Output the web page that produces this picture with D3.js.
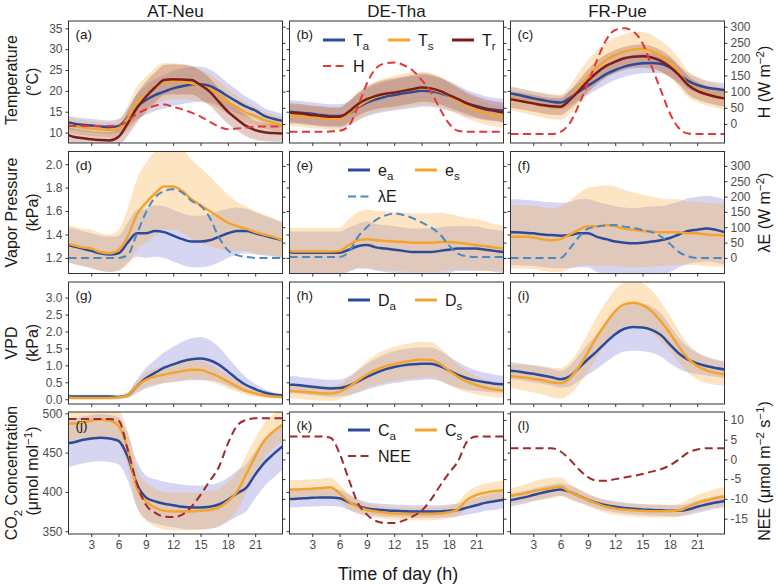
<!DOCTYPE html>
<html><head><meta charset="utf-8">
<script src="https://cdn.jsdelivr.net/npm/d3@7"></script>
<style>body{margin:0;background:#fff}svg{display:block;font-family:"Liberation Sans",Arial,sans-serif}</style>
</head><body><svg id="c" width="777" height="588"></svg>
<script>
const hours=[0.5,1,2,3,4,5,6,7,8,9,10,11,12,13,14,15,16,17,18,19,20,21,22,23,24];
const sites=["AT-Neu","DE-Tha","FR-Pue"];
const xTicks=[3,6,9,12,15,18,21];
const panelLabels=["(a)","(b)","(c)","(d)","(e)","(f)","(g)","(h)","(i)","(j)","(k)","(l)"];

// Temperature (°C) and H (W m-2)
const Ta_a=[12.4,12.2,11.9,11.7,11.5,11.3,11.6,13.6,16.2,17.8,19.0,19.8,20.6,21.1,21.5,21.6,21.2,20.1,18.7,17.4,16.2,15.3,14.0,13.3,12.8];
const Ts_a=[11.8,11.6,11.2,11.0,10.8,10.6,11.0,13.4,17.0,19.0,21.0,22.2,22.3,22.2,21.8,21.2,20.4,19.0,17.4,16.1,14.8,14.0,13.0,12.4,11.8];
const Tr_a=[9.4,9.0,8.7,8.4,8.2,8.1,9.0,12.2,15.8,18.6,20.8,22.6,22.8,22.7,22.6,21.4,19.8,17.4,15.0,13.2,11.6,10.6,10.1,9.9,9.8];
const H_a=[-6,-6,-6,-6,-6,-6,-5,10,31,45,56,60,53,45,35,23,7,-8,-16,-14,-11,-8,-8,-8,-8];
const sdTa_a=[1.6,1.6,1.6,1.6,1.6,1.6,1.7,2.2,3.0,3.5,3.8,4.0,4.2,4.3,4.3,4.2,4.0,3.6,3.2,2.8,2.4,2.1,1.9,1.8,1.7];
const sdTs_a=[1.8,1.8,1.8,1.8,1.8,1.8,2.0,3.0,4.0,4.3,4.5,4.5,4.3,4.2,4.0,3.8,3.6,3.3,3.0,2.7,2.4,2.2,2.0,1.9,1.8];
const sdTr_a=[2.0,2.0,2.0,2.0,2.0,2.0,2.2,3.0,3.5,3.6,3.6,3.6,3.6,3.6,3.5,3.4,3.3,3.1,2.9,2.7,2.5,2.3,2.2,2.1,2.0];

const Ta_b=[15.0,14.9,14.7,14.5,14.2,14.0,14.0,14.6,16.0,17.2,18.0,18.6,19.0,19.4,19.7,20.0,19.9,19.5,18.8,18.0,17.0,16.4,15.8,15.5,15.3];
const Ts_b=[14.2,14.1,13.9,13.7,13.5,13.3,13.3,14.6,16.2,17.6,18.6,19.2,19.6,20.0,20.4,20.6,20.4,19.8,18.8,17.6,16.3,15.4,14.6,14.1,13.8];
const Tr_b=[14.8,14.7,14.5,14.2,14.0,13.8,13.8,15.0,16.8,18.0,18.8,19.3,19.6,20.0,20.4,20.8,20.6,20.0,19.0,18.0,17.0,16.2,15.6,15.2,14.8];
const H_b=[-24,-24,-24,-24,-24,-23,-21,-6,53,125,172,187,190,182,166,136,100,48,2,-21,-24,-24,-24,-24,-24];
const sdTa_b=[2.8,2.8,2.8,2.8,2.8,2.8,2.8,2.9,3.1,3.3,3.5,3.6,3.7,3.8,3.8,3.8,3.7,3.6,3.5,3.3,3.2,3.0,2.9,2.8,2.8];
const sdTs_b=[2.6,2.6,2.6,2.6,2.6,2.6,2.6,2.8,3.2,3.5,3.7,3.9,4.0,4.1,4.1,4.0,3.9,3.7,3.5,3.2,3.0,2.8,2.7,2.6,2.6];
const sdTr_b=[2.3,2.3,2.3,2.3,2.3,2.3,2.3,2.5,2.8,3.0,3.2,3.3,3.4,3.4,3.4,3.4,3.3,3.2,3.0,2.8,2.6,2.5,2.4,2.3,2.3];

const Ta_c=[19.4,19.2,18.7,18.2,17.8,17.4,17.2,18.3,19.8,21.2,22.6,24.0,25.0,25.8,26.3,26.6,26.7,26.5,25.6,24.0,22.4,21.4,20.8,20.5,20.2];
const Ts_c=[18.2,18.0,17.5,17.0,16.6,16.2,16.1,17.8,20.6,23.4,25.6,27.4,28.6,29.4,29.9,30.1,29.6,28.4,26.8,24.4,21.6,20.3,19.4,18.8,18.2];
const Tr_c=[18.0,17.8,17.4,17.0,16.6,16.3,16.2,17.8,20.0,22.4,24.4,26.0,27.0,27.8,28.2,28.3,28.0,27.2,25.8,23.8,21.4,20.0,19.2,18.6,18.2];
const H_c=[-31,-31,-31,-31,-31,-31,-24,2,59,125,197,259,290,295,285,249,177,105,33,-13,-29,-31,-31,-31,-31];
const sdTa_c=[1.6,1.6,1.6,1.6,1.6,1.6,1.6,1.8,2.0,2.2,2.3,2.4,2.4,2.4,2.4,2.4,2.4,2.3,2.2,2.0,1.9,1.8,1.7,1.6,1.6];
const sdTs_c=[2.8,2.8,2.8,2.9,3.0,3.0,3.0,3.4,3.8,4.0,4.1,4.2,4.2,4.2,4.2,4.0,3.8,3.6,3.5,3.4,3.2,3.0,2.9,2.8,2.8];
const sdTr_c=[2.0,2.0,2.0,2.0,2.0,2.0,2.0,2.2,2.5,2.7,2.8,2.8,2.8,2.8,2.8,2.8,2.7,2.6,2.5,2.3,2.2,2.1,2.0,2.0,2.0];

// Vapor pressure (kPa) and λE (W m-2)
const ea_d=[1.31,1.30,1.28,1.26,1.24,1.23,1.24,1.33,1.41,1.41,1.43,1.42,1.39,1.36,1.34,1.34,1.35,1.38,1.41,1.43,1.43,1.41,1.39,1.37,1.35];
const es_d=[1.32,1.31,1.29,1.28,1.25,1.24,1.27,1.38,1.57,1.67,1.75,1.81,1.81,1.77,1.70,1.65,1.60,1.55,1.50,1.47,1.45,1.42,1.40,1.38,1.35];
const LE_d=[0,0,0,0,0,0,0,9,78,148,197,218,224,213,186,170,132,68,25,9,3,0,0,0,0];
const sdEa_d=[0.15,0.15,0.15,0.15,0.15,0.15,0.15,0.17,0.2,0.21,0.22,0.22,0.22,0.22,0.22,0.22,0.22,0.22,0.21,0.2,0.19,0.18,0.17,0.16,0.15];
const sdEs_d=[0.16,0.16,0.16,0.16,0.16,0.16,0.17,0.24,0.3,0.34,0.36,0.37,0.37,0.36,0.34,0.32,0.3,0.27,0.24,0.21,0.19,0.18,0.17,0.16,0.16];

const ea_e=[1.25,1.245,1.245,1.245,1.245,1.245,1.245,1.27,1.30,1.31,1.29,1.28,1.27,1.26,1.25,1.25,1.25,1.26,1.27,1.28,1.28,1.28,1.27,1.26,1.25];
const es_e=[1.26,1.255,1.255,1.255,1.255,1.255,1.26,1.31,1.35,1.36,1.35,1.345,1.34,1.335,1.33,1.33,1.33,1.335,1.335,1.33,1.32,1.31,1.30,1.29,1.28];
const LE_e=[3,3,3,3,3,3,3,19,68,100,124,138,145,140,130,116,100,78,41,14,5,3,3,3,3];
const sdEa_e=[0.18,0.18,0.18,0.18,0.18,0.18,0.18,0.19,0.19,0.2,0.2,0.2,0.2,0.2,0.2,0.2,0.2,0.2,0.2,0.19,0.19,0.19,0.18,0.18,0.18];
const sdEs_e=[0.2,0.2,0.2,0.2,0.2,0.2,0.2,0.22,0.24,0.25,0.25,0.25,0.25,0.25,0.25,0.25,0.25,0.25,0.24,0.23,0.22,0.22,0.21,0.2,0.2];

const ea_f=[1.42,1.42,1.415,1.41,1.40,1.395,1.39,1.395,1.41,1.41,1.38,1.36,1.34,1.33,1.325,1.33,1.34,1.35,1.37,1.40,1.43,1.44,1.45,1.44,1.42];
const es_f=[1.38,1.38,1.38,1.375,1.36,1.35,1.36,1.40,1.44,1.47,1.47,1.48,1.47,1.45,1.44,1.43,1.425,1.42,1.42,1.42,1.41,1.41,1.40,1.395,1.39];
const LE_f=[0,0,0,0,0,0,0,30,68,95,102,106,107,102,98,91,84,70,46,19,5,0,0,0,0];
const sdEa_f=[0.28,0.28,0.28,0.28,0.28,0.28,0.28,0.28,0.29,0.29,0.3,0.3,0.3,0.3,0.3,0.3,0.3,0.29,0.29,0.28,0.28,0.28,0.28,0.28,0.28];
const sdEs_f=[0.27,0.27,0.27,0.27,0.27,0.27,0.28,0.29,0.31,0.33,0.34,0.34,0.34,0.33,0.32,0.31,0.3,0.29,0.28,0.28,0.27,0.27,0.27,0.27,0.27];

// VPD (kPa)
const Da_g=[0.09,0.08,0.08,0.08,0.08,0.08,0.07,0.12,0.38,0.62,0.78,0.93,1.03,1.12,1.18,1.20,1.15,1.02,0.82,0.60,0.42,0.30,0.20,0.14,0.11];
const Ds_g=[0.05,0.04,0.04,0.04,0.04,0.04,0.05,0.12,0.38,0.57,0.67,0.73,0.78,0.83,0.87,0.86,0.78,0.67,0.52,0.38,0.25,0.17,0.11,0.08,0.06];
const sdDa_g=[0.05,0.05,0.05,0.05,0.05,0.05,0.05,0.08,0.2,0.3,0.38,0.45,0.52,0.58,0.62,0.64,0.6,0.52,0.42,0.32,0.22,0.15,0.1,0.07,0.06];
const sdDs_g=[0.04,0.04,0.04,0.04,0.04,0.04,0.04,0.07,0.15,0.2,0.23,0.25,0.27,0.28,0.28,0.28,0.26,0.23,0.2,0.16,0.12,0.09,0.07,0.05,0.04];

const Da_h=[0.43,0.43,0.40,0.37,0.34,0.32,0.33,0.40,0.52,0.66,0.78,0.88,0.95,1.00,1.03,1.05,1.05,0.98,0.85,0.72,0.62,0.55,0.50,0.46,0.44];
const Ds_h=[0.25,0.24,0.22,0.20,0.18,0.17,0.22,0.36,0.55,0.73,0.87,0.97,1.04,1.10,1.14,1.17,1.16,1.05,0.85,0.66,0.52,0.42,0.34,0.29,0.26];
const sdDa_h=[0.25,0.25,0.25,0.25,0.25,0.25,0.25,0.28,0.33,0.38,0.42,0.45,0.47,0.48,0.48,0.48,0.47,0.45,0.42,0.38,0.34,0.3,0.28,0.26,0.25];
const sdDs_h=[0.22,0.22,0.22,0.22,0.22,0.22,0.22,0.26,0.33,0.4,0.45,0.48,0.5,0.52,0.53,0.53,0.52,0.48,0.43,0.37,0.31,0.27,0.24,0.23,0.22];

const Da_i=[0.84,0.83,0.79,0.75,0.70,0.65,0.59,0.68,0.92,1.18,1.42,1.68,1.92,2.08,2.13,2.12,2.05,1.90,1.62,1.35,1.17,1.06,0.98,0.92,0.88];
const Ds_i=[0.68,0.67,0.64,0.60,0.56,0.50,0.47,0.62,0.95,1.38,1.85,2.25,2.60,2.80,2.85,2.78,2.60,2.30,1.95,1.55,1.20,0.98,0.85,0.78,0.74];
const sdDa_i=[0.25,0.25,0.25,0.25,0.25,0.25,0.25,0.3,0.38,0.45,0.52,0.58,0.63,0.67,0.7,0.7,0.68,0.64,0.56,0.46,0.38,0.32,0.28,0.26,0.25];
const sdDs_i=[0.35,0.35,0.38,0.4,0.42,0.44,0.45,0.48,0.52,0.56,0.6,0.62,0.64,0.65,0.65,0.64,0.62,0.58,0.52,0.46,0.42,0.4,0.38,0.36,0.35];

// CO2 (µmol mol-1) and NEE (µmol m-2 s-1)
const Ca_j=[462,463,466,468,469,468,465,445,410,393,388,385,383,381,380,380,381,384,390,398,405,422,437,448,458];
const Cs_j=[487,487,488,491,492,491,484,455,405,388,380,376,375,375,375,376,377,380,388,400,422,445,465,477,485];
const NEE_j=[10.2,10.2,10.2,10.2,10.2,10.2,9.8,2.5,-6,-11.5,-13.5,-14.5,-14.6,-14,-12,-9,-5.5,-2,4,8.5,10,10.4,10.4,10.4,10.4];
const sdCa_j=[30,30,30,30,30,30,30,30,29,28,28,28,28,28,28,28,28,28,28,29,30,30,30,30,30];
const sdCs_j=[22,22,22,22,22,22,22,23,24,24,24,24,24,24,24,24,24,24,24,24,24,23,22,22,22];

const Ca_k=[391,391,392,392.5,393,393,392,387,382,379,377.5,376.5,376,375.5,375,375,375,375,376,377,380,383,386,388,390];
const Cs_k=[403,403,403.5,404,405,406,398,388,381,377,375,373.5,372.5,372,372,372,372,372.5,374,378,390,396,399,401,402];
const NEE_k=[5.8,5.8,5.8,5.8,5.8,5.5,1.5,-5,-11,-14,-15.6,-16.1,-16.1,-15.5,-14.5,-13,-10.3,-6.8,-3.5,-0.5,4.5,5.8,5.8,5.8,5.8];
const sdCa_k=[11,11,11,11,11,11,11,10,9,8,8,8,8,8,8,8,8,8,8,8,9,10,10,11,11];
const sdCs_k=[12,12,12,12,12,12,11,10,9,8,8,8,8,8,8,8,8,8,8,9,10,11,12,12,12];

const Ca_l=[389.5,390.5,393,396,399,401.5,403,400,395,390,386,383,381,379.5,378.5,377.5,377,376.5,376,376,377.5,381,384,386.5,388.5];
const Cs_l=[395,396,398,401,403,405,406.5,400,395,390,385,381,379,377.5,376.5,376,375.5,375.5,375.5,376.5,381,386,389,392,394];
const NEE_l=[2.8,2.8,2.8,2.8,2.8,2.8,2.0,0,-2.5,-4.5,-5.4,-5.4,-5,-4.6,-4.2,-3.7,-3.1,-2.5,-1.5,0,1.7,2.5,2.8,2.8,2.8];
const sdCa_l=[8,8,8,8,8,8,8,8,8,7,7,7,7,7,7,7,7,7,7,7,7,8,8,8,8];
const sdCs_l=[10,10,11,12,13,13,12,10,9,8,8,8,8,8,8,8,8,8,8,8,9,10,11,12,12];

const leftTicks=[[10,15,20,25,30,35],[1.2,1.4,1.6,1.8,2.0],[0,0.5,1,1.5,2,2.5,3],[350,400,450,500]];
const rightTicks=[[0,50,100,150,200,250,300],[0,50,100,150,200,250,300],null,[-15,-10,-5,0,5,10]];

// ---- layout / style ----
const L=[68.5,289.5,510.5], W=214, TOP=[21,151.5,282,412], HGT=122;
const leftDomains=[[7.5,36.75],[1.067,2.108],[-0.14,3.46],[346.4,501.7]];
const rightDomains=[[-58.6,317.6],[-50.9,347],null,[-18.9,12.0]];
const fmtL=[d=>String(d),d=>d.toFixed(1),d=>d.toFixed(1),d=>String(d)];
const lineCol={a:"#2c4a9a",s:"#f4a42c",r:"#7b1d1d"};
const bandCol={a:"#6a6ad0",s:"#f9a83c",r:"#8b3a2a"};
const bandOp={a:0.28,s:0.3,r:0.26};
const dashCol=["#e0393b","#4a89c4",null,"#9e2a2f"];

const rows=[
 [{l:[["a",Ta_a,sdTa_a],["s",Ts_a,sdTs_a],["r",Tr_a,sdTr_a]],d:H_a},
  {l:[["a",Ta_b,sdTa_b],["s",Ts_b,sdTs_b],["r",Tr_b,sdTr_b]],d:H_b},
  {l:[["a",Ta_c,sdTa_c],["s",Ts_c,sdTs_c],["r",Tr_c,sdTr_c]],d:H_c}],
 [{l:[["a",ea_d,sdEa_d],["s",es_d,sdEs_d]],d:LE_d},
  {l:[["a",ea_e,sdEa_e],["s",es_e,sdEs_e]],d:LE_e},
  {l:[["a",ea_f,sdEa_f],["s",es_f,sdEs_f]],d:LE_f}],
 [{l:[["a",Da_g,sdDa_g],["s",Ds_g,sdDs_g]]},
  {l:[["a",Da_h,sdDa_h],["s",Ds_h,sdDs_h]]},
  {l:[["a",Da_i,sdDa_i],["s",Ds_i,sdDs_i]]}],
 [{l:[["a",Ca_j,sdCa_j],["s",Cs_j,sdCs_j]],d:NEE_j},
  {l:[["a",Ca_k,sdCa_k],["s",Cs_k,sdCs_k]],d:NEE_k},
  {l:[["a",Ca_l,sdCa_l],["s",Cs_l,sdCs_l]],d:NEE_l}]
];

const svg=d3.select("#c");
const defs=svg.append("defs");
const x=d3.scaleLinear().domain([0.5,24]).range([0,W]);

function styleAxis(g){
  g.select(".domain").remove();
  g.selectAll(".tick line").attr("stroke","#333");
  g.selectAll(".tick text").attr("fill","#4d4d4d").attr("font-size",12).attr("font-family","Liberation Sans, Arial, sans-serif");
}

rows.forEach((row,r)=>{
  const yL=d3.scaleLinear().domain(leftDomains[r]).range([HGT,0]);
  const yR=rightDomains[r]?d3.scaleLinear().domain(rightDomains[r]).range([HGT,0]):null;
  row.forEach((p,c)=>{
    const g=svg.append("g").attr("transform",`translate(${L[c]},${TOP[r]})`);
    const id=`clip${r}${c}`;
    defs.append("clipPath").attr("id",id).append("rect").attr("width",W).attr("height",HGT);
    const plot=g.append("g").attr("clip-path",`url(#${id})`);
    p.l.forEach(([k,v,sd])=>{
      const area=d3.area().x((d,i)=>x(hours[i])).y0((d,i)=>yL(d-sd[i])).y1((d,i)=>yL(d+sd[i])).curve(d3.curveMonotoneX);
      plot.append("path").datum(v).attr("d",area).attr("fill",bandCol[k]).attr("fill-opacity",bandOp[k]);
    });
    p.l.forEach(([k,v])=>{
      const line=d3.line().x((d,i)=>x(hours[i])).y(d=>yL(d)).curve(d3.curveMonotoneX);
      plot.append("path").datum(v).attr("d",line).attr("fill","none").attr("stroke",lineCol[k]).attr("stroke-width",2.5).attr("stroke-linejoin","round");
    });
    if(p.d){
      const line=d3.line().x((d,i)=>x(hours[i])).y(d=>yR(d)).curve(d3.curveMonotoneX);
      plot.append("path").datum(p.d).attr("d",line).attr("fill","none").attr("stroke",dashCol[r]).attr("stroke-width",2).attr("stroke-dasharray","8,4.5");
    }
    g.append("rect").attr("width",W).attr("height",HGT).attr("fill","none").attr("stroke","#333").attr("stroke-width",1);
    g.append("g").call(d3.axisLeft(yL).tickValues(leftTicks[r]).tickSize(3).tickPadding(3).tickFormat(c===0?fmtL[r]:()=>"")).call(styleAxis);
    if(yR) g.append("g").attr("transform",`translate(${W},0)`).call(d3.axisRight(yR).tickValues(rightTicks[r]).tickSize(3).tickPadding(3).tickFormat(c===2?d=>String(d):()=>"")).call(styleAxis);
    g.append("g").attr("transform",`translate(0,${HGT})`).call(d3.axisBottom(x).tickValues(xTicks).tickSize(3).tickPadding(3).tickFormat(r===3?d=>String(d):()=>"")).call(styleAxis);
    g.append("text").attr("x",7).attr("y",18).attr("font-size",13.5).attr("fill","#1a1a1a").text(panelLabels[r*3+c]);
  });
});

// column titles
sites.forEach((s,c)=>svg.append("text").attr("x",L[c]+W/2).attr("y",16.5).attr("text-anchor","middle").attr("font-size",17).attr("fill","#1a1a1a").text(s));

// rich text helper
function rich(sel,parts,size){
  let shift=0;
  parts.forEach(([t,k])=>{
    const target=k==="sub"?size*0.3:k==="sup"?-size*0.4:0;
    const ts=sel.append("tspan").text(t).attr("dy",target-shift);
    shift=target;
    if(k) ts.attr("font-size",size*0.72);
  });
}
function vtext(xp,yp,parts,size){
  const t=svg.append("text").attr("transform",`translate(${xp},${yp}) rotate(-90)`).attr("text-anchor","middle").attr("font-size",size).attr("fill","#1a1a1a");
  rich(t,parts,size);
}
// left titles
const ctr=TOP.map(t=>t+HGT/2);
vtext(17,ctr[0]-2,[["Temperature"]],16); vtext(38,ctr[0],[["(°C)"]],16);
vtext(17,ctr[1],[["Vapor Pressure"]],16); vtext(38,ctr[1],[["(kPa)"]],16);
vtext(17,ctr[2],[["VPD"]],16); vtext(38,ctr[2],[["(kPa)"]],16);
vtext(17,ctr[3],[["CO"],["2","sub"],[" Concentration"]],16); vtext(38,ctr[3]-2,[["(μmol mol"],["−1","sup"],[")"]],16);
// right titles
vtext(770,ctr[0],[["H (W m"],["−2","sup"],[")"]],16);
vtext(770,ctr[1],[["λE (W m"],["−2","sup"],[")"]],16);
vtext(770,ctr[3]-2,[["NEE (μmol m"],["−2","sup"],[" s"],["−1","sup"],[")"]],16);
// x title
svg.append("text").attr("x",398).attr("y",580).attr("text-anchor","middle").attr("font-size",18).attr("fill","#1a1a1a").text("Time of day (h)");

// legends
function legItem(x1,y,col,dashed,parts){
  svg.append("line").attr("x1",x1).attr("x2",x1+22).attr("y1",y).attr("y2",y).attr("stroke",col).attr("stroke-width",dashed?2:3).attr("stroke-dasharray",dashed?"8,4.5":null);
  const t=svg.append("text").attr("x",x1+30).attr("y",y+5.5).attr("font-size",16).attr("fill","#1a1a1a");
  rich(t,parts,16);
}
legItem(323,40,lineCol.a,false,[["T"],["a","sub"]]);
legItem(388,40,lineCol.s,false,[["T"],["s","sub"]]);
legItem(452,40,lineCol.r,false,[["T"],["r","sub"]]);
legItem(323,66,dashCol[0],true,[["H"]]);
legItem(348,170,lineCol.a,false,[["e"],["a","sub"]]);
legItem(415,170,lineCol.s,false,[["e"],["s","sub"]]);
legItem(348,196.5,dashCol[1],true,[["λE"]]);
legItem(348,300,lineCol.a,false,[["D"],["a","sub"]]);
legItem(415,300,lineCol.s,false,[["D"],["s","sub"]]);
legItem(348,430,lineCol.a,false,[["C"],["a","sub"]]);
legItem(415,430,lineCol.s,false,[["C"],["s","sub"]]);
legItem(348,456,dashCol[3],true,[["NEE"]]);
</script></body></html>
